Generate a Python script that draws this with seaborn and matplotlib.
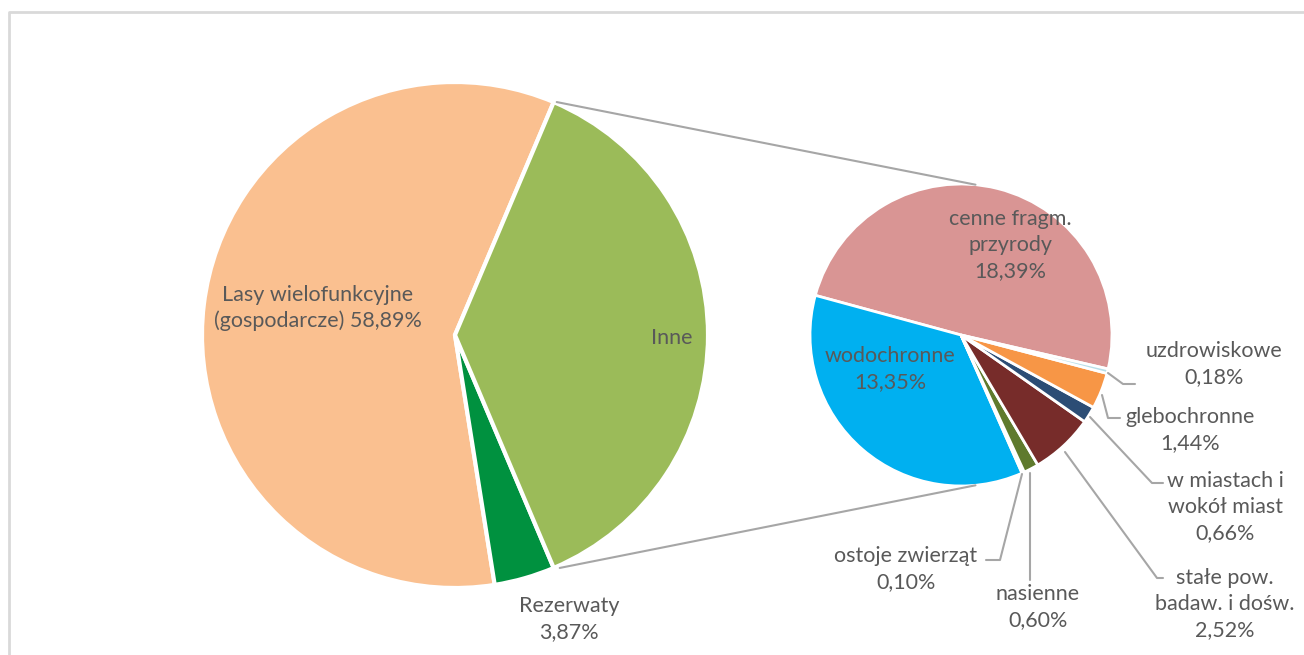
import numpy as np
import matplotlib
matplotlib.use("Agg")
import matplotlib.pyplot as plt
import seaborn as sns

# ---- data ----
main_labels = ["Lasy wielofunkcyjne\n(gospodarcze) 58,89%", "Rezerwaty\n3,87%", "Inne"]
main_values = [58.89, 3.87, 37.24]
main_colors = ["#FAC090", "#00913F", "#9BBB59"]

sub_labels = ["cenne fragm.\nprzyrody\n18,39%", "wodochronne\n13,35%", "ostoje zwierząt\n0,10%",
              "nasienne\n0,60%", "stałe pow.\nbadaw. i dośw.\n2,52%", "w miastach i\nwokół miast\n0,66%",
              "glebochronne\n1,44%", "uzdrowiskowe\n0,18%"]
sub_values = [18.39, 13.35, 0.10, 0.60, 2.52, 0.66, 1.44, 0.18]
sub_colors = ["#D99594", "#00B0F0", "#F2F2F2", "#5F7A2D", "#772C2A", "#2C4D75", "#F79646", "#B7DEE8"]

sns.set_theme(style="white")
plt.rcParams['font.family'] = ['Lato', 'DejaVu Sans']
TXT = "#595959"
FS = 15.5

W, H = 1304, 655
fig = plt.figure(figsize=(W / 100, H / 100), dpi=100)
ax = fig.add_axes([0, 0, 1, 1])

# chart frame (left and top edges visible)
ax.plot([9, 9, W + 5], [H + 5, 12, 12], color="#D9D9D9", lw=2, solid_capstyle="butt")

# main pie
mc = (455, 335)
mr = 253
inne_span = main_values[2] / sum(main_values) * 360
start_main = inne_span / 2
ax.pie(main_values, colors=main_colors, center=mc, radius=mr, startangle=-start_main,
       counterclock=False, wedgeprops=dict(edgecolor="white", linewidth=3), frame=True)

# secondary pie
sc = (961, 335)
sr = 151
ax.pie(sub_values, colors=sub_colors, center=sc, radius=sr, startangle=13,
       counterclock=False, wedgeprops=dict(edgecolor="white", linewidth=2), frame=True)
ax.set_xlim(0, W)
ax.set_ylim(H, 0)
ax.set_aspect("equal")
ax.axis("off")

# connector lines
a = np.deg2rad(start_main)
p_top = (mc[0] + mr * np.cos(a), mc[1] - mr * np.sin(a))
p_bot = (mc[0] + mr * np.cos(a), mc[1] + mr * np.sin(a))
b = np.deg2rad(84.5)
q_top = (sc[0] + sr * np.cos(b), sc[1] - sr * np.sin(b))
q_bot = (sc[0] + sr * np.cos(b), sc[1] + sr * np.sin(b))
lc = "#A6A6A6"
ax.plot([p_top[0] + 3, q_top[0]], [p_top[1], q_top[1]], color=lc, lw=1.5)
ax.plot([p_bot[0] + 6, q_bot[0]], [p_bot[1], q_bot[1]], color=lc, lw=1.5)

def txt(x, y, s, ha="center"):
    ax.text(x, y, s, ha=ha, va="center", fontsize=FS, color=TXT, linespacing=1.38)

txt(318, 308, main_labels[0])
txt(569, 619, main_labels[1])
txt(672, 338, main_labels[2])

txt(1010, 245, sub_labels[0])
txt(890, 369, sub_labels[1])
txt(906, 569, sub_labels[2])
txt(1038, 607, sub_labels[3])
txt(1225, 604, sub_labels[4])
txt(1225, 507, sub_labels[5])
txt(1190, 430, sub_labels[6])
txt(1214, 364, sub_labels[7])

# leader lines
leaders = [
    [(1108, 373), (1123, 384), (1135, 384)],
    [(1102, 395), (1108, 418), (1120, 418)],
    [(1090, 417), (1152, 483), (1163, 483)],
    [(1065, 452), (1157, 578), (1163, 578)],
    [(1030, 473), (1030, 580)],
    [(1022, 474), (1000, 560), (986, 560)],
]
for pts in leaders:
    xs, ys = zip(*pts)
    ax.plot(xs, ys, color=lc, lw=1.5)

fig.savefig("out.png", dpi=100)
